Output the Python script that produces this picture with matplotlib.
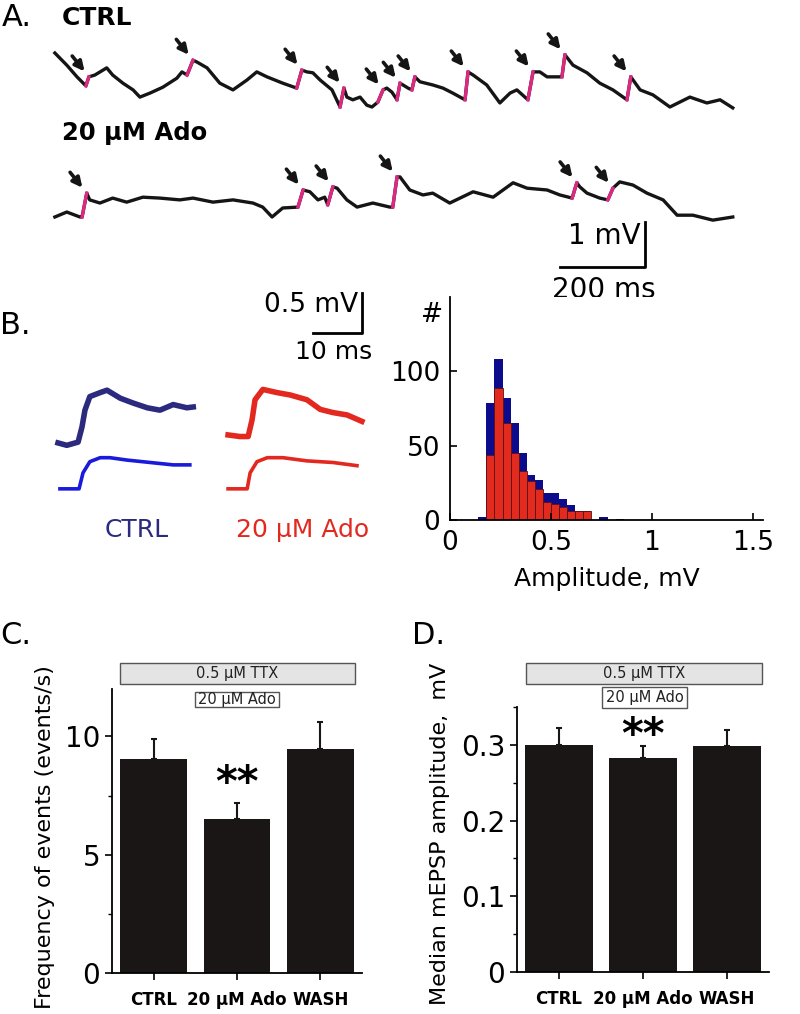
import matplotlib.pyplot as plt
import matplotlib.transforms as mtransforms
from matplotlib.patches import Rectangle
from matplotlib.ticker import MultipleLocator

# ---- panel A: 1.6 s voltage traces (ms, mV), event onsets marked ----
ctrl_t = [0, 28, 52, 73, 80, 94, 122, 136, 160, 184, 200, 224, 254, 287, 299, 311, 325, 334,
          358, 388, 419, 452, 475, 499, 536, 569, 581, 593, 607, 624, 652, 671, 680, 687, 701,
          718, 734, 746, 760, 772, 781, 793, 805, 812, 819, 831, 840, 847, 859, 889, 913, 936,
          965, 972, 984, 1016, 1047, 1071, 1087, 1113, 1125, 1141, 1158, 1193, 1200, 1219, 1252,
          1282, 1313, 1346, 1355, 1377, 1407, 1447, 1494, 1534, 1565, 1595]
ctrl_v = [0.00, -0.27, -0.53, -0.73, -0.53, -0.49, -0.33, -0.49, -0.67, -0.82, -0.98, -0.89,
          -0.76, -0.56, -0.42, -0.49, -0.16, -0.20, -0.33, -0.67, -0.82, -0.60, -0.42, -0.53,
          -0.67, -0.78, -0.38, -0.42, -0.44, -0.60, -0.82, -1.20, -0.78, -0.98, -1.04, -0.98,
          -1.16, -1.20, -1.09, -0.82, -0.78, -0.87, -1.04, -0.67, -0.71, -0.78, -0.82, -0.53,
          -0.64, -0.71, -0.78, -0.89, -1.04, -0.42, -0.49, -0.71, -1.11, -0.89, -0.82, -1.04,
          -0.42, -0.42, -0.53, -0.53, -0.04, -0.27, -0.44, -0.67, -0.82, -1.04, -0.53, -0.82,
          -0.93, -1.20, -0.98, -1.11, -1.04, -1.22]
ctrl_events = [3, 15, 25, 31, 38, 42, 46, 52, 59, 63, 69]

ado_t = [0, 28, 59, 64, 75, 82, 106, 136, 169, 207, 247, 294, 325, 372, 419, 466, 489, 511,
         536, 572, 584, 600, 619, 635, 642, 654, 664, 687, 711, 748, 788, 795, 805, 812, 835,
         866, 889, 929, 984, 1031, 1078, 1111, 1158, 1188, 1217, 1228, 1235, 1252, 1282, 1301,
         1313, 1329, 1360, 1393, 1431, 1464, 1501, 1548, 1595]
ado_v = [0.00, 0.11, 0.00, 0.00, 0.53, 0.38, 0.31, 0.42, 0.33, 0.44, 0.42, 0.38, 0.42, 0.33,
         0.38, 0.31, 0.22, 0.00, 0.20, 0.22, 0.60, 0.56, 0.38, 0.44, 0.27, 0.67, 0.64, 0.38,
         0.22, 0.31, 0.22, 0.22, 0.89, 0.89, 0.60, 0.49, 0.53, 0.31, 0.56, 0.44, 0.76, 0.64,
         0.60, 0.49, 0.42, 0.76, 0.67, 0.53, 0.42, 0.38, 0.64, 0.78, 0.71, 0.53, 0.38, 0.04,
         0.04, -0.07, 0.00]
ado_events = [3, 19, 24, 31, 44, 49]

# ---- panel B: averaged mEPSPs (ms, mV) ----
b_ctrl_t = [0, 1.8, 4.1, 4.9, 5.5, 6.5, 8.6, 10.0, 12.7, 15.3, 18.2, 20.8, 23.5, 26.3, 27.6]
b_ctrl_v = [0, -0.03, 0.01, 0.20, 0.41, 0.58, 0.63, 0.66, 0.56, 0.50, 0.44, 0.41, 0.48, 0.44, 0.45]
b_ctrl_fit_t = [0.4, 4.3, 5.1, 6.5, 8.6, 10.6, 14.1, 18.8, 23.5, 26.9]
b_ctrl_fit_v = [0, 0, 0.20, 0.34, 0.39, 0.39, 0.36, 0.33, 0.30, 0.30]
b_ado_t = [0, 2.4, 4.1, 4.9, 5.5, 7.1, 10.0, 12.7, 16.1, 18.8, 21.4, 24.3, 27.3]
b_ado_v = [0.01, -0.01, -0.01, 0.20, 0.45, 0.58, 0.54, 0.51, 0.45, 0.33, 0.29, 0.26, 0.18]
b_ado_fit_t = [0, 3.9, 4.5, 5.9, 8.0, 11.2, 16.1, 21.4, 26.3]
b_ado_fit_v = [0, 0, 0.20, 0.34, 0.39, 0.39, 0.35, 0.33, 0.29]

# amplitude histogram (bin left edges in mV, counts)
hist_left = [0.14, 0.18, 0.22, 0.26, 0.30, 0.34, 0.38, 0.42, 0.46, 0.50, 0.54, 0.58, 0.62,
             0.66, 0.70, 0.74, 0.78, 0.82]
ctrl_counts = [2, 79, 108, 82, 65, 45, 30, 27, 18, 18, 14, 10, 6, 6, 0, 2, 0, 1]
ado_counts = [0, 44, 89, 65, 45, 33, 26, 21, 12, 11, 9, 6, 6, 6, 0, 0, 0, 0]

# ---- panels C, D ----
conditions = ['CTRL', '20 µM Ado', 'WASH']
freq_mean = [9.03, 6.51, 9.48]
freq_sem = [0.87, 0.68, 1.14]
amp_mean = [0.300, 0.283, 0.298]
amp_sem = [0.022, 0.015, 0.021]

PINK = '#dc2a82'
NAVY = '#2b2a7e'
BLUE = '#1a1adc'
RED = '#e2281f'
BAR = '#1b1616'

fig = plt.figure(figsize=(8, 10.14), dpi=100)


def draw_trace(ax, t, v, events, offset):
    vv = [x + offset for x in v]
    ax.plot(t, vv, color='#151515', lw=2.4)
    for i in events:
        ax.plot(t[i:i + 2], vv[i:i + 2], color=PINK, lw=2.4)
        ax.annotate('', xy=(t[i + 1], vv[i + 1]), xytext=(-12, 15), textcoords='offset points',
                    arrowprops=dict(arrowstyle='-|>', color='#151515', lw=2.6,
                                    mutation_scale=14, shrinkA=0, shrinkB=5))


axA = fig.add_axes([40 / 800, 1 - 275 / 1014, 720 / 800, 245 / 1014])
axA.set_xlim(-35, 1659)
axA.set_ylim(-4.933, 0.511)
axA.axis('off')
draw_trace(axA, ctrl_t, ctrl_v, ctrl_events, 0)
draw_trace(axA, ado_t, ado_v, ado_events, -3.644)
axA.plot([1188, 1388, 1388], [-4.756, -4.756, -3.756], color='k', lw=2)
axA.text(1377, -4.07, '1 mV', ha='right', va='center', fontsize=20)
axA.text(1292, -5.27, '200 ms', ha='center', va='center', fontsize=20)

fig.text(2 / 800, 1 - 17 / 1014, 'A.', fontsize=22, va='center')
fig.text(62 / 800, 1 - 18 / 1014, 'CTRL', fontsize=18, fontweight='bold', va='center')
fig.text(62 / 800, 1 - 133 / 1014, '20 µM Ado', fontsize=17.5, fontweight='bold', va='center')

# panel B traces
axB = fig.add_axes([40 / 800, 1 - 510 / 1014, 340 / 800, 230 / 1014])
axB.set_xlim(-3.67, 65.7)
axB.set_ylim(-0.84, 2.04)
axB.axis('off')
axB.plot(b_ctrl_t, b_ctrl_v, color=NAVY, lw=4)
axB.plot(b_ctrl_fit_t, [v - 0.575 for v in b_ctrl_fit_v], color=BLUE, lw=2.6)
axB.plot([t + 34.7 for t in b_ado_t], [v + 0.09 for v in b_ado_v], color=RED, lw=4)
axB.plot([t + 34.7 for t in b_ado_fit_t], [v - 0.575 for v in b_ado_fit_v], color=RED, lw=2.6)
axB.plot([52.0, 62.0, 62.0], [1.375, 1.375, 1.875], color='k', lw=2)
axB.text(61.2, 1.725, '0.5 mV', ha='right', va='center', fontsize=19)
axB.text(56.3, 1.14, '10 ms', ha='center', va='center', fontsize=18)
axB.text(16.1, -1.09, 'CTRL', ha='center', va='center', fontsize=18, color=NAVY)
axB.text(49.8, -1.09, '20 µM Ado', ha='center', va='center', fontsize=18, color=RED)
fig.text(0, 1 - 325 / 1014, 'B.', fontsize=22, va='center')

# histogram
axH = fig.add_axes([450 / 800, 1 - 520 / 1014, 313 / 800, 223 / 1014])
axH.bar(hist_left, ctrl_counts, width=0.04, align='edge', color='#0b0b8c', lw=0)
axH.bar(hist_left, ado_counts, width=0.04, align='edge', color='#e32a1e',
        edgecolor='#5a1414', lw=0.6)
axH.set_xlim(0, 1.55)
axH.set_ylim(0, 150)
axH.set_xticks([0, 0.5, 1, 1.5])
axH.set_xticklabels(['0', '0.5', '1', '1.5'])
axH.set_yticks([0, 50, 100])
for s in ['top', 'right']:
    axH.spines[s].set_visible(False)
for s in ['left', 'bottom']:
    axH.spines[s].set_linewidth(1.3)
axH.tick_params(direction='in', length=5, width=1.2, labelsize=19, pad=7)
axH.set_xlabel('Amplitude, mV', fontsize=18, labelpad=8)
axH.text(-0.058, 0.92, '#', transform=axH.transAxes, ha='center', va='center', fontsize=19)


def bar_panel(ax, means, sems, ymax, major, minor, ylabel, star_y, boxes):
    x = list(range(len(conditions)))
    ax.bar(x, means, width=0.8, color=BAR)
    ax.errorbar(x, means, yerr=[[0] * len(x), sems], fmt='none', ecolor=BAR,
                elinewidth=1.5, capsize=2.5, capthick=1.5)
    ax.set_xlim(-0.5, 2.5)
    ax.set_ylim(0, ymax)
    ax.set_xticks(x)
    ax.set_xticklabels(conditions, fontsize=12, fontweight='bold')
    ax.yaxis.set_major_locator(MultipleLocator(major))
    ax.yaxis.set_minor_locator(MultipleLocator(minor))
    for s in ['top', 'right']:
        ax.spines[s].set_visible(False)
    for s in ['left', 'bottom']:
        ax.spines[s].set_linewidth(1.3)
    ax.tick_params(axis='y', which='major', direction='out', length=5, width=1.2, labelsize=20)
    ax.tick_params(axis='y', which='minor', direction='out', length=3, width=1.0)
    ax.tick_params(axis='x', direction='out', length=5, width=1.2, pad=8)
    ax.set_ylabel(ylabel, fontsize=16)
    ax.text(1, star_y, '**', ha='center', va='center', fontsize=30, fontweight='bold')
    trans = mtransforms.blended_transform_factory(ax.transData, ax.transAxes)
    for (x0, x1, y0, y1, face, label) in boxes:
        ax.add_patch(Rectangle((x0, y0), x1 - x0, y1 - y0, transform=trans, clip_on=False,
                               facecolor=face, edgecolor='#555555', lw=1.0))
        ax.text((x0 + x1) / 2, (y0 + y1) / 2, label, transform=trans, ha='center',
                va='center', fontsize=10.5, color='#222222')


axC = fig.add_axes([112 / 800, 1 - 973 / 1014, 250 / 800, 284 / 1014])
bar_panel(axC, freq_mean, freq_sem, 12, 5, 2.5, 'Frequency of events (events/s)', 8.0,
          [(-0.41, 2.41, 1.018, 1.092, '#e4e4e4', '0.5 µM TTX'),
           (0.5, 1.5, 0.937, 0.989, 'white', '20 µM Ado')])
axC.yaxis.set_label_coords(-0.228, 0.48)
fig.text(0, 1 - 636 / 1014, 'C.', fontsize=22, va='center')

axD = fig.add_axes([517 / 800, 1 - 972 / 1014, 252 / 800, 265 / 1014])
bar_panel(axD, amp_mean, amp_sem, 0.35, 0.1, 0.05, 'Median mEPSP amplitude,  mV', 0.312,
          [(-0.395, 2.42, 1.087, 1.166, '#e4e4e4', '0.5 µM TTX'),
           (0.515, 1.52, 0.996, 1.075, 'white', '20 µM Ado')])
axD.set_yticks([0, 0.1, 0.2, 0.3])
axD.set_yticklabels(['0', '0.1', '0.2', '0.3'])
axD.yaxis.set_label_coords(-0.266, 0.52)
fig.text(412 / 800, 1 - 636 / 1014, 'D.', fontsize=22, va='center')

fig.savefig('out.png', dpi=100)
